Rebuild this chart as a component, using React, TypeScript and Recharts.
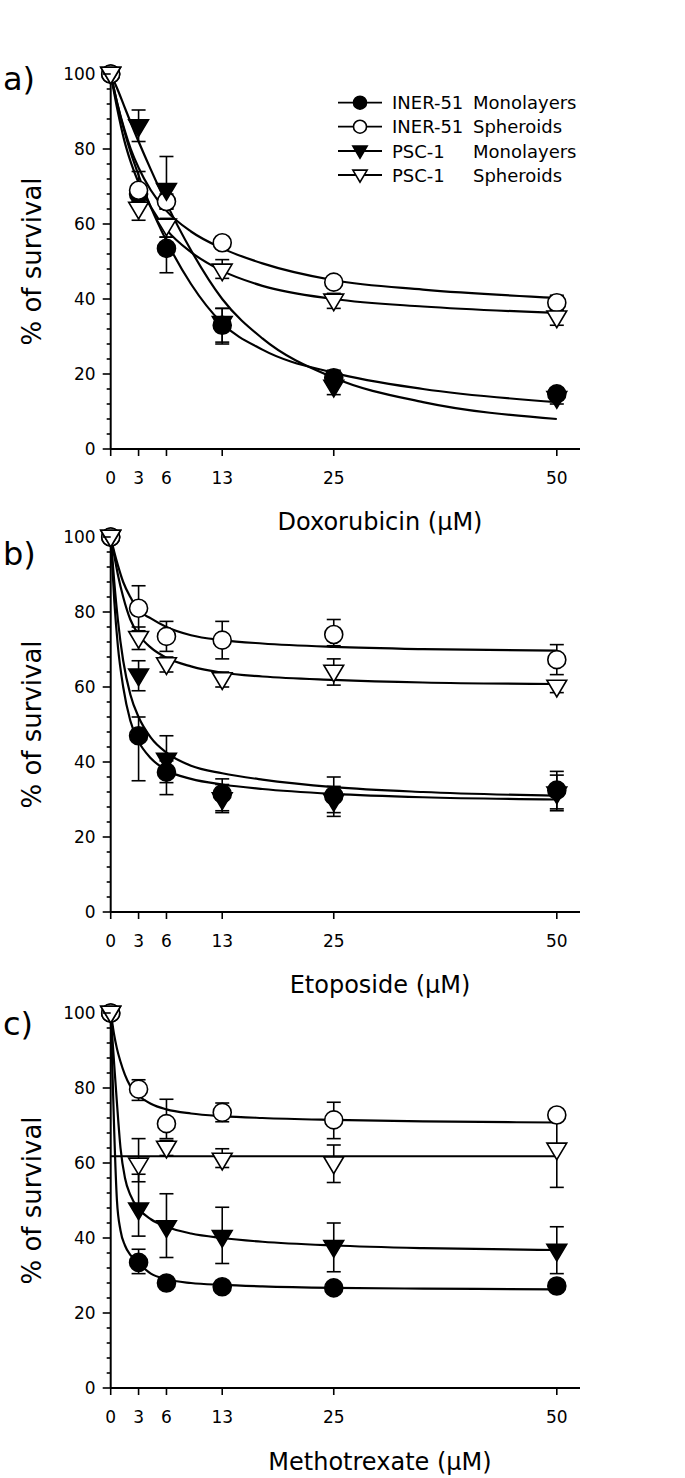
import React from "react";
import { ComposedChart, Line, Scatter, XAxis, YAxis, ErrorBar } from "recharts";

// ---------- shared axis data ----------
const doses = [0, 3.125, 6.25, 12.5, 25, 50];
const doseTickLabels = ["0", "3", "6", "13", "25", "50"];
const yTicks = [0, 4, 8, 12, 16, 20, 24, 28, 32, 36, 40, 44, 48, 52, 56, 60, 64, 68, 72, 76, 80, 84, 88, 92, 96, 100];
const yMajor = [0, 20, 40, 60, 80, 100];
const seriesNames = ["INER-51", "INER-51", "PSC-1", "PSC-1"];
const seriesTypes = ["Monolayers", "Spheroids", "Monolayers", "Spheroids"];
const drugTitles = ["Doxorubicin (µM)", "Etoposide (µM)", "Methotrexate (µM)"];
const panelLetters = ["a)", "b)", "c)"];

// ---------- a) Doxorubicin ----------
const doxIner51Mono = [100, 68, 53.5, 33, 19, 14.7];
const doxIner51MonoErr = [[0, 0], [2, 2], [6.5, 3], [5, 4.5], [2, 2], [1.5, 1.5]];
const doxIner51Sph = [100, 69, 66, 55, 44.5, 39];
const doxIner51SphErr = [[0, 0], [3, 5], [2, 2], [1.5, 1.5], [1.5, 1.5], [2, 2]];
const doxPsc1Mono = [100, 86, 69, 33.5, 16.5, 13.5];
const doxPsc1MonoErr = [[0, 0], [4, 4.4], [5, 9], [5, 4], [2, 2], [1.5, 1.5]];
const doxPsc1Sph = [100, 64, 59.5, 47.5, 39.5, 35];
const doxPsc1SphErr = [[0, 0], [3, 3], [3, 2], [2, 3], [2, 2], [2, 2]];
const doxFitX = [0, 0.75, 1.5, 2.25, 3.125, 4.5, 6.25, 9, 12.5, 17, 25, 35, 50];
const doxFitIner51Mono = [100, 92, 85, 79, 73, 64.5, 55.5, 44, 33.5, 26.5, 20.3, 16, 12.5];
const doxFitIner51Sph = [100, 92, 85.5, 80, 75, 69, 63.5, 58, 53.5, 49.5, 45, 42.5, 40.3];
const doxFitPsc1Mono = [100, 96, 91.5, 87, 82, 74.5, 65.5, 53, 40, 29.5, 19, 12.5, 8];
const doxFitPsc1Sph = [100, 90.5, 82.5, 76.5, 71, 64.5, 58.5, 52.5, 47.5, 43.5, 40, 38, 36.3];

// ---------- b) Etoposide ----------
const etoIner51Mono = [100, 47, 37.3, 31.5, 31, 32.5];
const etoIner51MonoErr = [[0, 0], [12, 5], [6, 3], [5, 4], [5.5, 5], [5.5, 5]];
const etoIner51Sph = [100, 81, 73.5, 72.5, 74, 67.3];
const etoIner51SphErr = [[0, 0], [6, 6], [4, 4], [5, 5], [3, 4], [4, 4]];
const etoPsc1Mono = [100, 63, 40.5, 30, 29.5, 31.5];
const etoPsc1MonoErr = [[0, 0], [4, 4], [6, 6.5], [3, 4], [3, 4], [4, 5]];
const etoPsc1Sph = [100, 73, 66, 62, 64, 60];
const etoPsc1SphErr = [[0, 0], [3, 3], [2, 2], [2, 2], [3.5, 3.5], [1.5, 1.5]];
const etoFitX = [0, 0.4, 0.8, 1.4, 2.2, 3.125, 4.5, 6.25, 9, 12.5, 17, 25, 35, 50];
const etoFitIner51Mono = [100, 83, 71, 60, 51, 45.5, 41, 37.8, 35.5, 34, 32.8, 31.5, 30.6, 30];
const etoFitIner51Sph = [100, 96, 92.5, 88, 84, 80.5, 78.3, 76, 73.8, 72.5, 71.6, 70.7, 70.1, 69.7];
const etoFitPsc1Mono = [100, 88, 78, 67, 58, 52, 46.5, 42.5, 39, 37, 35.3, 33.3, 32, 31];
const etoFitPsc1Sph = [100, 95, 90, 84, 78, 74, 70.5, 67.8, 65.5, 63.8, 62.8, 61.9, 61.2, 60.8];

// ---------- c) Methotrexate ----------
const mtxIner51Mono = [100, 33.5, 28, 27, 26.7, 27.2];
const mtxIner51MonoErr = [[0, 0], [3, 3.5], [1, 1], [1, 1], [1, 1], [1, 1]];
const mtxIner51Sph = [100, 79.7, 70.5, 73.5, 71.5, 72.8];
const mtxIner51SphErr = [[0, 0], [3, 2.5], [4, 6.5], [2.5, 2.5], [5, 4.7], [1, 1]];
const mtxPsc1Mono = [100, 47.5, 42.8, 40.2, 37.5, 36.5];
const mtxPsc1MonoErr = [[0, 0], [7, 9.5], [8, 9], [7, 8], [6.5, 6.5], [6, 6.5]];
const mtxPsc1Sph = [100, 59.5, 64, 60.8, 59.8, 63.5];
const mtxPsc1SphErr = [[0, 0], [4.5, 7], [2, 2], [2, 3], [5, 5], [10, 10]];
const mtxFitX = [0, 0.2, 0.4, 0.7, 1.1, 1.6, 2.2, 3.125, 4.5, 6.25, 9, 12.5, 17, 25, 35, 50];
const mtxFitIner51Mono = [100, 84, 68, 50, 42, 38, 35.5, 33.3, 30.5, 29, 28, 27.5, 27.1, 26.7, 26.5, 26.3];
const mtxFitIner51Sph = [100, 97, 94, 90.5, 87, 83.5, 80.5, 78, 75.8, 74.3, 73.2, 72.5, 72, 71.5, 71.1, 70.8];
const mtxFitPsc1Mono = [100, 93, 86, 76, 64, 56, 51.5, 47.8, 45, 43, 41.2, 40, 39, 38, 37.3, 36.8];
const mtxFitPsc1SphX = [0, 50];
const mtxFitPsc1Sph = [61.8, 61.8];

// ---------- layout constants ----------
const PLOT_LEFT = 110.7;
const PLOT_RIGHT = 580;
const PLOT_H = 375;
const X_MAX = 52.6;
const FONT = "DejaVu Sans";

const toPoints = (vals: number[], errs: number[][]) =>
  doses.map((d, i) => ({ x: d, y: vals[i], err: errs[i] }));
const toFit = (xs: number[], ys: number[]) => xs.map((x, i) => ({ x, y: ys[i] }));

const panels = [
  {
    plotTop: 74,
    series: [
      toPoints(doxIner51Mono, doxIner51MonoErr),
      toPoints(doxIner51Sph, doxIner51SphErr),
      toPoints(doxPsc1Mono, doxPsc1MonoErr),
      toPoints(doxPsc1Sph, doxPsc1SphErr),
    ],
    fits: [
      toFit(doxFitX, doxFitIner51Mono),
      toFit(doxFitX, doxFitIner51Sph),
      toFit(doxFitX, doxFitPsc1Mono),
      toFit(doxFitX, doxFitPsc1Sph),
    ],
  },
  {
    plotTop: 537,
    series: [
      toPoints(etoIner51Mono, etoIner51MonoErr),
      toPoints(etoIner51Sph, etoIner51SphErr),
      toPoints(etoPsc1Mono, etoPsc1MonoErr),
      toPoints(etoPsc1Sph, etoPsc1SphErr),
    ],
    fits: [
      toFit(etoFitX, etoFitIner51Mono),
      toFit(etoFitX, etoFitIner51Sph),
      toFit(etoFitX, etoFitPsc1Mono),
      toFit(etoFitX, etoFitPsc1Sph),
    ],
  },
  {
    plotTop: 1013,
    series: [
      toPoints(mtxIner51Mono, mtxIner51MonoErr),
      toPoints(mtxIner51Sph, mtxIner51SphErr),
      toPoints(mtxPsc1Mono, mtxPsc1MonoErr),
      toPoints(mtxPsc1Sph, mtxPsc1SphErr),
    ],
    fits: [
      toFit(mtxFitX, mtxFitIner51Mono),
      toFit(mtxFitX, mtxFitIner51Sph),
      toFit(mtxFitX, mtxFitPsc1Mono),
      toFit(mtxFitPsc1SphX, mtxFitPsc1Sph),
    ],
  },
];

// ---------- markers ----------
const drawMarker = (kind: number, cx: number, cy: number, s: number, key?: string) => {
  const filled = kind === 0 || kind === 2;
  const fill = filled ? "#000" : "#fff";
  if (kind < 2) {
    return <circle key={key} cx={cx} cy={cy} r={s} fill={fill} stroke="#000" strokeWidth={1.6} />;
  }
  const w = s * 1.1;
  const pts = `${cx - w},${cy - s * 0.75} ${cx + w},${cy - s * 0.75} ${cx},${cy + s * 1.1}`;
  return <polygon key={key} points={pts} fill={fill} stroke="#000" strokeWidth={1.6} strokeLinejoin="miter" />;
};
const makeShape = (kind: number) => (p: any) => {
  if (p == null || p.cx == null || p.cy == null) return <g />;
  return drawMarker(kind, p.cx, p.cy, 9);
};

const YTick = (props: any) => {
  const { x, y, payload } = props;
  const v = payload.value;
  const major = yMajor.includes(v);
  return (
    <g>
      <line x1={x} y1={y} x2={x - (major ? 8 : 4)} y2={y} stroke="#000" strokeWidth={1.6} />
      {major && (
        <text x={x - 15} y={y + 6.2} textAnchor="end" fontFamily={FONT} fontSize={17} fill="#000">
          {v}
        </text>
      )}
    </g>
  );
};

const XTick = (props: any) => {
  const { x, y, payload } = props;
  const i = doses.indexOf(payload.value);
  return (
    <text x={x} y={y + 28} textAnchor="middle" fontFamily={FONT} fontSize={17} fill="#000">
      {i >= 0 ? doseTickLabels[i] : ""}
    </text>
  );
};

const MARGIN_TOP = 20;
const CHART_H = MARGIN_TOP + PLOT_H + 60 + 5;

const Panel = ({ panel }: { panel: (typeof panels)[number] }) => (
  <div style={{ position: "absolute", left: 0, top: panel.plotTop - MARGIN_TOP }}>
    <ComposedChart
      width={685}
      height={CHART_H}
      margin={{ top: MARGIN_TOP, right: 685 - PLOT_RIGHT, bottom: 5, left: 0 }}
    >
      <XAxis
        type="number"
        dataKey="x"
        domain={[0, X_MAX]}
        ticks={doses}
        interval={0}
        height={60}
        tickSize={7}
        tickMargin={0}
        axisLine={{ stroke: "#000", strokeWidth: 2 }}
        tickLine={{ stroke: "#000", strokeWidth: 1.6 }}
        tick={<XTick />}
      />
      <YAxis
        type="number"
        dataKey="y"
        domain={[0, 100]}
        ticks={yTicks}
        interval={0}
        width={PLOT_LEFT}
        tickSize={0}
        tickMargin={0}
        tickLine={false}
        axisLine={{ stroke: "#000", strokeWidth: 2 }}
        tick={<YTick />}
      />
      {panel.fits.map((f, i) => (
        <Line
          key={"fit" + i}
          data={f}
          dataKey="y"
          type="monotone"
          stroke="#000"
          strokeWidth={2.2}
          dot={false}
          activeDot={false}
          isAnimationActive={false}
        />
      ))}
      {panel.series.map((s, i) => (
        <Scatter key={"s" + i} data={s} dataKey="y" shape={makeShape(i)} isAnimationActive={false}>
          <ErrorBar dataKey="err" direction="y" width={7} stroke="#000" strokeWidth={1.6} />
        </Scatter>
      ))}
    </ComposedChart>
  </div>
);

const legendRows = [102.7, 126.7, 151, 175];

const Overlay = () => (
  <svg
    width={685}
    height={1478}
    style={{ position: "absolute", left: 0, top: 0, pointerEvents: "none" }}
  >
    {panels.map((p, i) => (
      <g key={"t" + i}>
        <text x={3} y={[90, 565, 1035][i]} fontFamily={FONT} fontSize={32} fill="#000">
          {panelLetters[i]}
        </text>
        <text
          transform={`translate(41, ${p.plotTop + PLOT_H / 2}) rotate(-90)`}
          textAnchor="middle"
          fontFamily={FONT}
          fontSize={26}
          fill="#000"
        >
          % of survival
        </text>
        <text x={380} y={[530, 993, 1470][i]} textAnchor="middle" fontFamily={FONT} fontSize={24} fill="#000">
          {drugTitles[i]}
        </text>
      </g>
    ))}
    {legendRows.map((cy, i) => (
      <g key={"l" + i}>
        <line x1={338} y1={cy} x2={382} y2={cy} stroke="#000" strokeWidth={1.8} />
        {drawMarker(i, 360, cy, 6.5)}
        <text x={392} y={cy + 6.5} fontFamily={FONT} fontSize={18} fill="#000">
          {seriesNames[i]}
        </text>
        <text x={473} y={cy + 6.5} fontFamily={FONT} fontSize={18} fill="#000">
          {seriesTypes[i]}
        </text>
      </g>
    ))}
  </svg>
);

export default function App() {
  return (
    <div style={{ position: "absolute", left: 0, top: 0, width: 685, height: 1478 }}>
      {panels.map((p, i) => (
        <Panel key={i} panel={p} />
      ))}
      <Overlay />
    </div>
  );
}
